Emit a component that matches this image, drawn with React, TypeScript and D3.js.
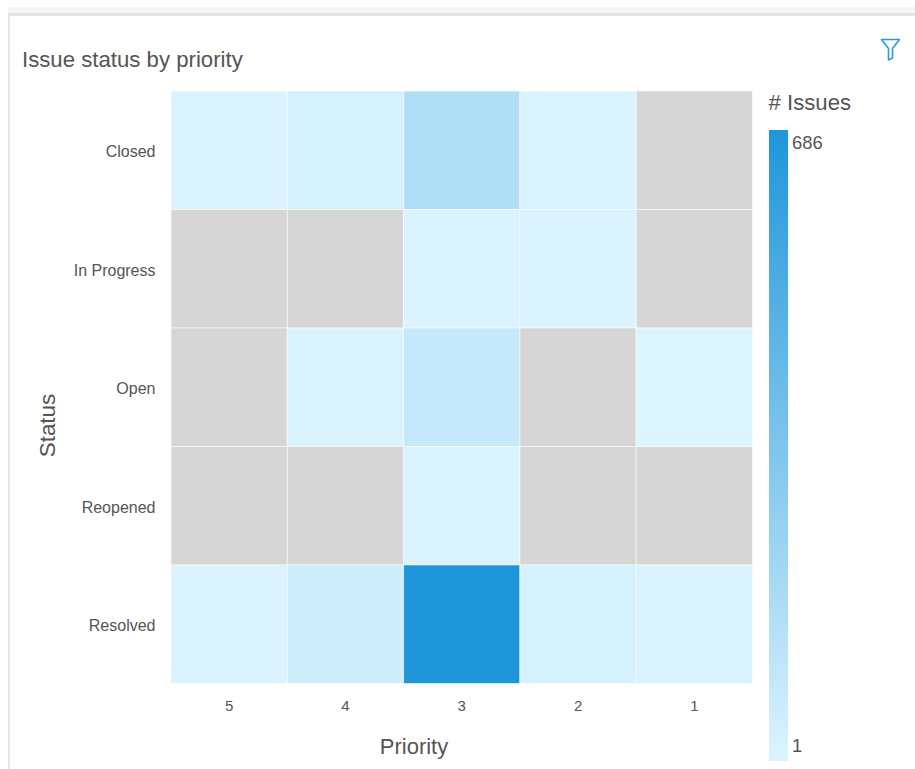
import React from "react";
import * as d3 from "d3";

const priorities = ["5", "4", "3", "2", "1"];
const statuses = ["Closed", "In Progress", "Open", "Reopened", "Resolved"];

// Issue counts per status, one entry per priority; null marks an empty combination.
const closedCounts = [6, 22, 158, 5, null];
const inProgressCounts = [null, null, 8, 10, null];
const openCounts = [null, 7, 85, null, 4];
const reopenedCounts = [null, null, 5, null, null];
const resolvedCounts = [8, 48, 686, 26, 6];
const countRows = [closedCounts, inProgressCounts, openCounts, reopenedCounts, resolvedCounts];

const domainMin = 1;
const domainMax = 686;
const lowColor = "#dcf4ff";
const highColor = "#1f96da";
const emptyColor = "#d6d6d6";
const font = "'Liberation Sans', Arial, sans-serif";

export default function App() {
  const x = d3.scaleBand<string>().domain(priorities).range([171, 752.5]);
  const y = d3.scaleBand<string>().domain(statuses).range([91, 683.5]);
  const color = d3.scaleLinear<string>().domain([domainMin, domainMax]).range([lowColor, highColor]);
  const legendY = d3.scaleLinear().domain([domainMin, domainMax]).range([761, 130]);

  return (
    <svg
      width={915}
      height={769}
      style={{ position: "absolute", left: 0, top: 0, background: "#fff", fontFamily: font }}
    >
      <defs>
        <linearGradient id="legendRamp" x1="0" y1="1" x2="0" y2="0">
          <stop offset="0%" stopColor={lowColor} />
          <stop offset="100%" stopColor={highColor} />
        </linearGradient>
      </defs>

      {/* Card frame */}
      <rect x={8} y={7} width={907} height={6} fill="#f5f5f5" />
      <rect x={8} y={13} width={907} height={3} fill="#e6e6e6" />
      <rect x={8} y={13} width={2} height={756} fill="#e6e6e6" />

      <text x={22} y={67} fontSize={22.2} fill="#555">Issue status by priority</text>

      {/* Filter icon */}
      <path
        d="M881.5 39.5 H899.5 L892.5 48.5 V58 L888.5 60 V48.5 Z"
        fill="none"
        stroke="#2a9ade"
        strokeWidth={1.6}
        strokeLinejoin="round"
      />

      {/* Heatmap cells */}
      {countRows.map((row, r) =>
        row.map((value, c) => (
          <rect
            key={`${r}-${c}`}
            x={x(priorities[c])}
            y={y(statuses[r])}
            width={x.bandwidth()}
            height={y.bandwidth()}
            fill={value === null ? emptyColor : color(value)}
            stroke="#fff"
            strokeOpacity={0.55}
            strokeWidth={1}
          />
        ))
      )}

      {/* Category labels */}
      {statuses.map((s) => (
        <text
          key={s}
          x={155.5}
          y={y(s)! + y.bandwidth() / 2 + 7}
          fontSize={16}
          fill="#555"
          textAnchor="end"
        >
          {s}
        </text>
      ))}
      {priorities.map((p) => (
        <text
          key={p}
          x={x(p)! + x.bandwidth() / 2}
          y={711}
          fontSize={15}
          fill="#555"
          textAnchor="middle"
        >
          {p}
        </text>
      ))}

      {/* Axis titles */}
      <text x={414} y={754} fontSize={22} fill="#555" textAnchor="middle">Priority</text>
      <text
        transform="translate(55 425.5) rotate(-90)"
        fontSize={22.4}
        fill="#555"
        textAnchor="middle"
      >
        Status
      </text>

      {/* Colour legend */}
      <text x={768.5} y={110} fontSize={22.2} fill="#555"># Issues</text>
      <rect
        x={769}
        y={legendY(domainMax)}
        width={19}
        height={legendY(domainMin) - legendY(domainMax)}
        fill="url(#legendRamp)"
      />
      <text x={792} y={149} fontSize={18.4} fill="#555">{domainMax}</text>
      <text x={792} y={752} fontSize={18.4} fill="#555">{domainMin}</text>
    </svg>
  );
}
